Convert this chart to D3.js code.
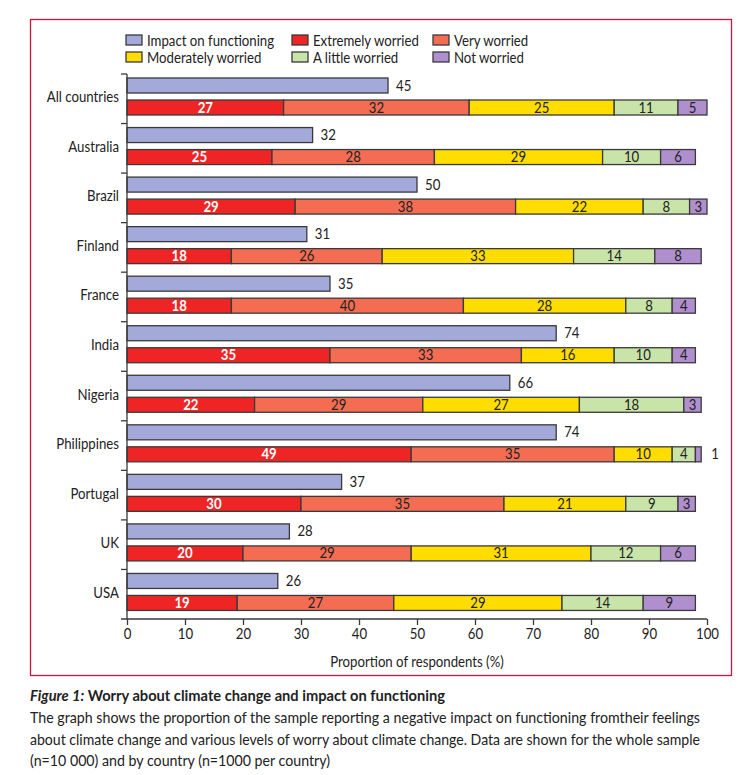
<!DOCTYPE html>
<html>
<head>
<meta charset="utf-8">
<script src="https://cdn.jsdelivr.net/npm/d3@7"></script>
<style>
body { margin:0; background:#fff; }
svg text { font-family: "Lato", "Liberation Sans", sans-serif; fill:#222; }
</style>
</head>
<body>
<div id="chart"></div>
<script>
var width = 748;
var height = 775;

// data
var countries = ['All countries','Australia','Brazil','Finland','France','India','Nigeria','Philippines','Portugal','UK','USA'];
var impact    = [45, 32, 50, 31, 35, 74, 66, 74, 37, 28, 26];
var extremely = [27, 25, 29, 18, 18, 35, 22, 49, 30, 20, 19];
var very      = [32, 28, 38, 26, 40, 33, 29, 35, 35, 29, 27];
var moderate  = [25, 29, 22, 33, 28, 16, 27, 10, 21, 31, 29];
var little    = [11, 10,  8, 14,  8, 10, 18,  4,  9, 12, 14];
var notWorried= [ 5,  6,  3,  8,  4,  4,  3,  1,  3,  6,  9];
var ticks = [0,10,20,30,40,50,60,70,80,90,100];

var seriesNames = ['Extremely worried','Very worried','Moderately worried','A little worried','Not worried'];
var seriesVals = [extremely, very, moderate, little, notWorried];
var colors = {
  'Impact on functioning':'#a3a9d9',
  'Extremely worried':'#ee2524',
  'Very worried':'#f46d53',
  'Moderately worried':'#ffdd00',
  'A little worried':'#c8e4a8',
  'Not worried':'#b08fcf'
};
var legendOrder = ['Impact on functioning','Extremely worried','Very worried','Moderately worried','A little worried','Not worried'];

var svg = d3.select('#chart').append('svg')
  .attr('width', width)
  .attr('height', height);

// frame
svg.append('rect')
  .attr('x', 30.5).attr('y', 19.5)
  .attr('width', 701).attr('height', 656)
  .attr('fill', 'none')
  .attr('stroke', '#c8173f')
  .attr('stroke-width', 1.3);

//scalers
var x = d3.scaleLinear().domain([0,100]).range([127, 707]);
var y = d3.scaleBand().domain(countries).range([74, 619]);

var stroke = '#3a3a3a';

// stacked worried data
var rows = countries.map(function(c, i){
  var acc = 0;
  return seriesNames.map(function(s, j){
    var v = seriesVals[j][i];
    var seg = {country:c, series:s, v:v, x0:acc, x1:acc+v};
    acc += v;
    return seg;
  });
});

var g = svg.append('g');

// impact bars
g.selectAll('rect.impact')
  .data(countries)
  .enter().append('rect')
  .attr('class','impact')
  .attr('x', x(0))
  .attr('y', function(d){ return y(d) + 4; })
  .attr('width', function(d,i){ return x(impact[i]) - x(0); })
  .attr('height', 15)
  .attr('fill', colors['Impact on functioning'])
  .attr('stroke', stroke).attr('stroke-width', 1.3);

g.selectAll('text.impactLab')
  .data(countries)
  .enter().append('text')
  .attr('x', function(d,i){ return x(impact[i]) + 8; })
  .attr('y', function(d){ return y(d) + 16.5; })
  .attr('font-size', 14.5)
  .text(function(d,i){ return impact[i]; });

// worried bars
var segs = [].concat.apply([], rows);
g.selectAll('rect.seg')
  .data(segs)
  .enter().append('rect')
  .attr('class','seg')
  .attr('x', function(d){ return x(d.x0); })
  .attr('y', function(d){ return y(d.country) + 26; })
  .attr('width', function(d){ return x(d.x1) - x(d.x0); })
  .attr('height', 15)
  .attr('fill', function(d){ return colors[d.series]; })
  .attr('stroke', stroke).attr('stroke-width', 1.3);

g.selectAll('text.segLab')
  .data(segs)
  .enter().append('text')
  .attr('x', function(d){ return d.v < 2 ? x(d.x1) + 10 : (x(d.x0) + x(d.x1)) / 2; })
  .attr('y', function(d){ return y(d.country) + 38.5; })
  .attr('text-anchor', function(d){ return d.v < 2 ? 'start' : 'middle'; })
  .attr('font-size', 14.5)
  .attr('font-weight', function(d){ return d.series == 'Extremely worried' ? 'bold' : 'normal'; })
  .style('fill', function(d){ return d.series == 'Extremely worried' ? '#fff' : '#222'; })
  .text(function(d){ return d.v; });

// y axis with ticks between groups
var yAxis = svg.append('g');
yAxis.append('line')
  .attr('x1', x(0)).attr('x2', x(0))
  .attr('y1', y.range()[0]).attr('y2', y.range()[1])
  .attr('stroke', stroke).attr('stroke-width', 1.3);
yAxis.selectAll('line.gt')
  .data(countries)
  .enter().append('line')
  .attr('x1', x(0) - 6).attr('x2', x(0))
  .attr('y1', function(d){ return y(d); })
  .attr('y2', function(d){ return y(d); })
  .attr('stroke', stroke).attr('stroke-width', 1.3);
yAxis.selectAll('text')
  .data(countries)
  .enter().append('text')
  .attr('x', 119)
  .attr('y', function(d){ return y(d) + y.bandwidth()/2 + 3.5; })
  .attr('text-anchor', 'end')
  .attr('font-size', 14.5)
  .text(function(d){ return d; });

// x axis
var xAxis = svg.append('g')
  .attr('transform', 'translate(0,619)')
  .call(d3.axisBottom(x).tickValues(ticks).tickSize(6).tickPadding(4).tickSizeOuter(0));
xAxis.select('.domain').attr('d', 'M' + (x(0) - 6) + ',0H' + x(100)).attr('stroke', stroke).attr('stroke-width', 1.3);
xAxis.selectAll('.tick line').attr('stroke', stroke).attr('stroke-width', 1.3);
xAxis.selectAll('.tick text')
  .attr('font-size', 14.5)
  .attr('font-family', null)
  .style('fill', '#222');

svg.append('text')
  .attr('x', (x(0) + x(100)) / 2)
  .attr('y', 667)
  .attr('text-anchor', 'middle')
  .attr('font-size', 14.5)
  .text('Proportion of respondents (%)');

// legend
var legPos = [[126,35],[292,35],[433,35],[126,52],[292,52],[433,52]];
var leg = svg.selectAll('g.leg')
  .data(legendOrder)
  .enter().append('g')
  .attr('class','leg')
  .attr('transform', function(d,i){ return 'translate(' + legPos[i][0] + ',' + legPos[i][1] + ')'; });
leg.append('rect')
  .attr('width', 16).attr('height', 10)
  .attr('fill', function(d){ return colors[d]; })
  .attr('stroke', stroke).attr('stroke-width', 1.3);
leg.append('text')
  .attr('x', 21).attr('y', 10.5)
  .attr('font-size', 14.5)
  .text(function(d){ return d; });

// narrow the chart text a little, the original face is condensed
svg.selectAll('text').each(function(){
  var w = this.getComputedTextLength();
  d3.select(this).attr('textLength', w * 0.91).attr('lengthAdjust', 'spacingAndGlyphs');
});

// caption
var cap = svg.append('text')
  .attr('x', 30).attr('y', 701)
  .attr('font-size', 15.5)
  .attr('font-weight', 'bold')
  .attr('textLength', 415)
  .attr('lengthAdjust', 'spacingAndGlyphs');
cap.append('tspan').attr('font-style', 'italic').text('Figure 1:');
cap.append('tspan').text(' Worry about climate change and impact on functioning');

var capLines = [
  'The graph shows the proportion of the sample reporting a negative impact on functioning fromtheir feelings',
  'about climate change and various levels of worry about climate change. Data are shown for the whole sample',
  '(n=10\u00a0000) and by country (n=1000 per country)'
];
var capWidths = [670, 670, 300];
svg.selectAll('text.capLine')
  .data(capLines)
  .enter().append('text')
  .attr('class','capLine')
  .attr('x', 30)
  .attr('y', function(d,i){ return 723 + i * 21.5; })
  .attr('font-size', 15)
  .attr('textLength', function(d,i){ return capWidths[i]; })
  .attr('lengthAdjust', 'spacingAndGlyphs')
  .text(function(d){ return d; });
</script>
</body>
</html>
